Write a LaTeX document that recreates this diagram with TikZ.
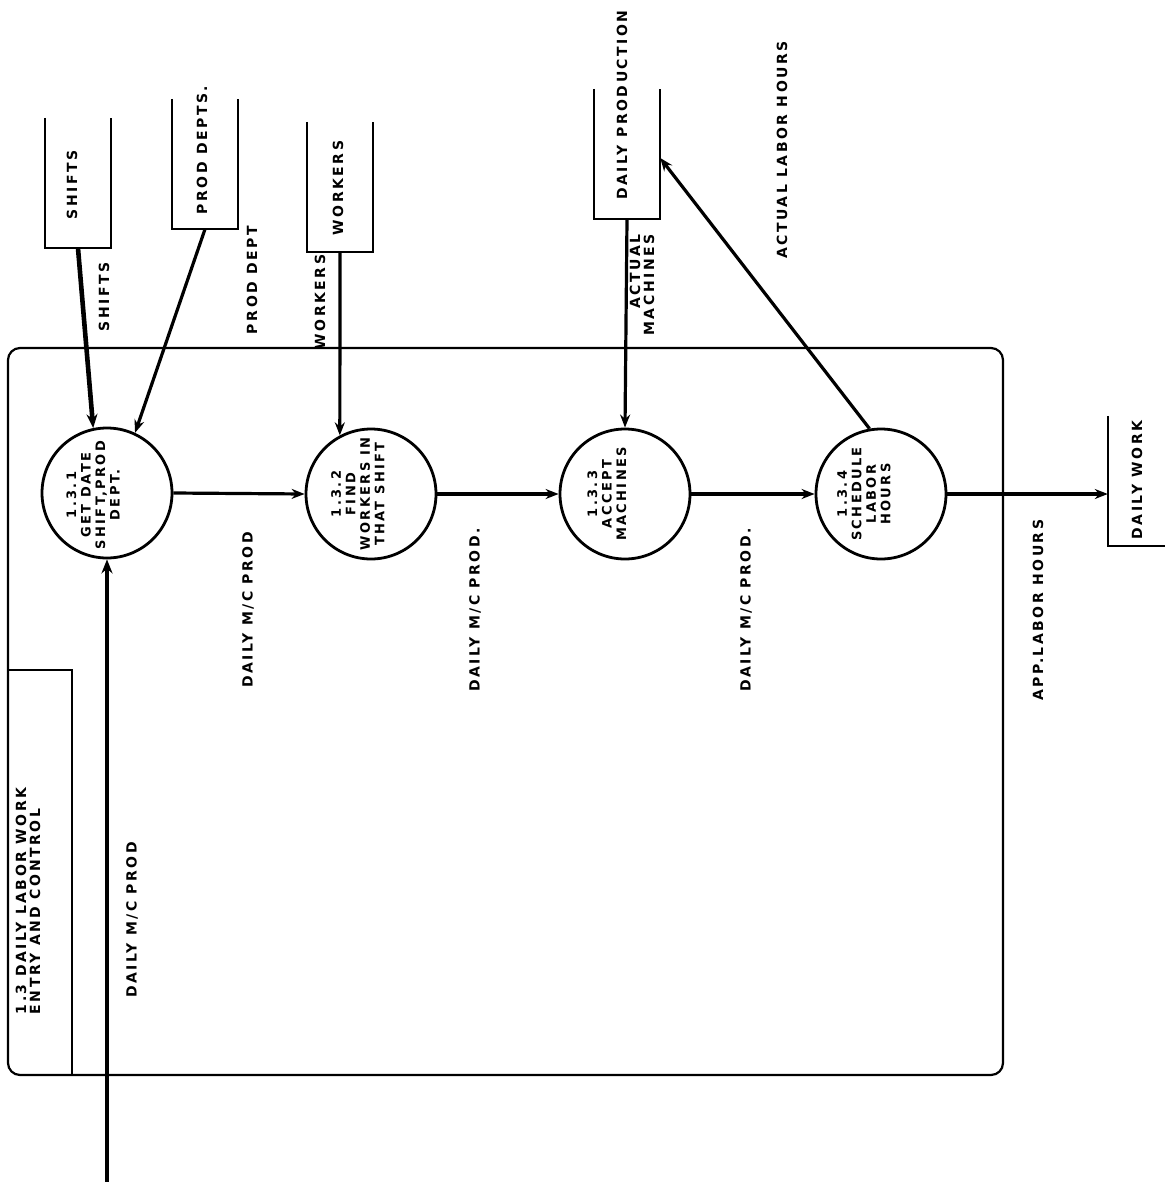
\documentclass[tikz,border=0pt]{standalone}
\usepackage{fontspec}
\setmainfont{DejaVu Sans}
\newfontfamily\dfd{DejaVu Sans}[LetterSpace=18]
\usetikzlibrary{arrows.meta}
\tikzset{
  lbl/.style={font=\dfd\bfseries\fontsize{14}{14}\selectfont, rotate=90, inner sep=0pt},
  ptext/.style={font=\dfd\bfseries\fontsize{13}{14.5}\selectfont, rotate=90, inner sep=0pt, align=center},
  proc/.style={circle, draw, line width=2.8pt, minimum size=130pt, inner sep=0pt},
  storebox/.style={minimum width=66pt, minimum height=130pt, inner sep=0pt},
  storeline/.style={line width=2.4pt},
  flow/.style={line width=3.2pt, -{Stealth[length=13pt,width=10pt]}},
  thickflow/.style={line width=4.6pt, -{Stealth[length=14pt,width=11pt]}}
}
\begin{document}
\begin{tikzpicture}[x=1pt,y=-1pt]
\useasboundingbox (0,0) rectangle (1164,1182);

% boundary of process 1.3
\draw[line width=2.2pt, rounded corners=12pt] (8,348) rectangle (1003,1075);
\draw[line width=2.2pt] (8,670) -- (72,670) -- (72,1075);
\node[lbl, align=left] (title) at (28,901) {1.3 DAILY LABOR WORK\\ENTRY AND CONTROL};

% processes
\node[proc] (c1) at (107,493) {};
\node[proc] (c2) at (371,494) {};
\node[proc] (c3) at (625,494) {};
\node[proc] (c4) at (881,494) {};
\node[ptext] (t1) at (93,495) {1.3.1\\GET DATE\\SHIFT,PROD\\DEPT.};
\node[ptext] (t2) at (358,494) {1.3.2\\FIND\\WORKERS IN\\THAT SHIFT};
\node[ptext] (t3) at (607,494) {1.3.3\\ACCEPT\\MACHINES};
\node[ptext] (t4) at (864,494) {1.3.4\\SCHEDULE\\LABOR\\HOURS};

% data stores
\node[storebox] (shifts) at (78,183) {};
\node[storebox] (pdepts) at (205,164) {};
\node[storebox] (workers) at (340,187) {};
\node[storebox] (dprod) at (627,154) {};
\node[storebox] (dwork) at (1141,481) {};
\foreach \s in {shifts,pdepts,workers,dprod,dwork}
  \draw[storeline] (\s.north west) -- (\s.south west) -- (\s.south east) -- (\s.north east);
\node[lbl] (shiftsT) at (72,185) {SHIFTS};
\node[lbl] (pdeptsT) at (202,150) {PROD DEPTS.};
\node[lbl] (workersT) at (338,188) {WORKERS};
\node[lbl] (dprodT) at (622,105) {DAILY PRODUCTION};
\node[lbl] (dworkT) at (1137,480) {DAILY WORK};

% flows
\coordinate (src) at (107,1182);
\draw[thickflow] (shifts.south) -- (c1.102);
\draw[flow] (pdepts.south) -- (c1.65);
\draw[flow] (workers.south) -- (c2.118);
\draw[flow] (dprod.south) -- (c3.north);
\draw[flow] (c4.100) -- ([yshift=-4pt]dprod.east);
\draw[thickflow] (src) -- (c1.south);
\draw[flow] (c1.east) -- (c2.west);
\draw[flow] (c2.east) -- (c3.west);
\draw[flow] (c3.east) -- (c4.west);
\draw[flow] (c4.east) -- (c4.east -| dwork.west);

% flow labels
\node[lbl] (l1) at (104,297) {SHIFTS};
\node[lbl] (l2) at (252,280) {PROD DEPT};
\node[lbl] (l3) at (320,302) {WORKERS};
\node[lbl, align=right] (l4) at (642,285) {ACTUAL\\MACHINES};
\node[lbl] (l5) at (782,150) {ACTUAL LABOR HOURS};
\node[lbl] (l6) at (248,610) {DAILY M/C PROD};
\node[lbl] (l7) at (475,610) {DAILY M/C PROD.};
\node[lbl] (l8) at (746,610) {DAILY M/C PROD.};
\node[lbl] (l9) at (1038,610) {APP.LABOR HOURS};
\node[lbl] (l10) at (132,920) {DAILY M/C PROD};
\end{tikzpicture}
\end{document}
